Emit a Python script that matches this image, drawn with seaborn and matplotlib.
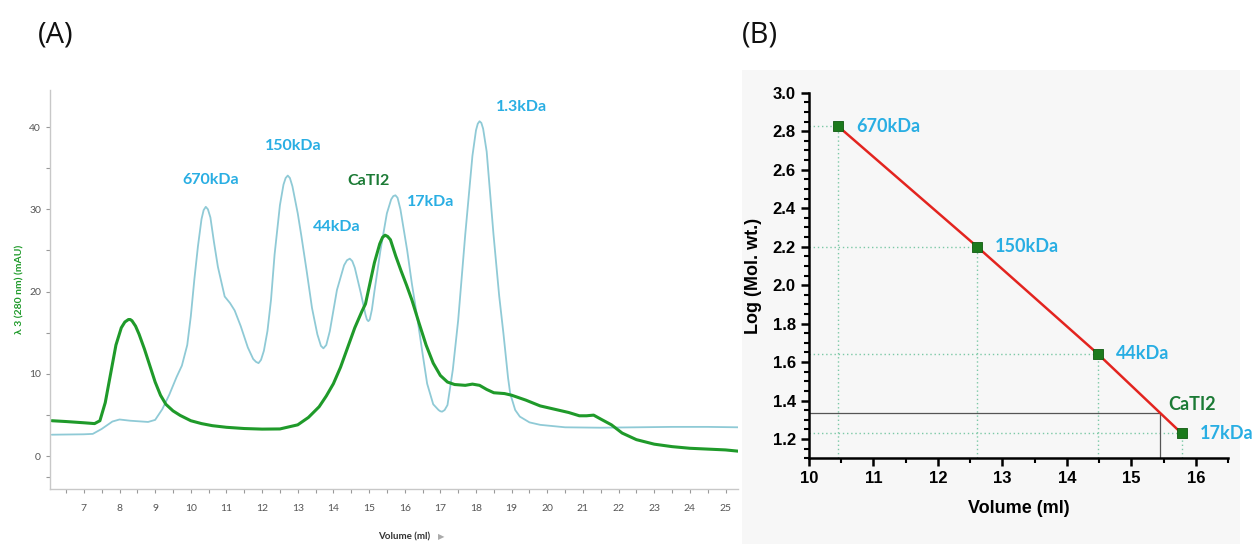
import numpy as np
import pandas as pd
import matplotlib
matplotlib.use("Agg")
import matplotlib.pyplot as plt
import seaborn as sns
from matplotlib.ticker import MultipleLocator, FixedLocator
from matplotlib.patches import Rectangle

# ---------------- data: panel A (chromatogram) ----------------
green_volume = [6.1, 6.5, 7.0, 7.3, 7.45, 7.6, 7.75, 7.9, 8.05, 8.15, 8.25, 8.3, 8.35, 8.45,
                8.55, 8.7, 8.85, 9.0, 9.15, 9.3, 9.5, 9.7, 10.0, 10.3, 10.6, 11.0, 11.5,
                12.0, 12.5, 13.0, 13.3, 13.6, 13.8, 14.0, 14.2, 14.4, 14.6, 14.8, 14.9,
                15.0, 15.15, 15.3, 15.38, 15.45, 15.52, 15.6, 15.75, 15.9, 16.05, 16.2,
                16.4, 16.6, 16.8, 17.0, 17.2, 17.4, 17.7, 17.9, 18.1, 18.3, 18.5, 18.8,
                19.0, 19.4, 19.8, 20.2, 20.6, 20.9, 21.1, 21.3, 21.5, 21.8, 22.1, 22.5,
                23.0, 23.5, 24.0, 24.5, 25.0, 25.35]
green_mau = [4.3, 4.2, 4.05, 3.95, 4.3, 6.5, 10.0, 13.5, 15.6, 16.3, 16.6, 16.6, 16.45, 15.8,
             14.8, 13.0, 11.0, 9.0, 7.4, 6.3, 5.5, 4.95, 4.3, 3.95, 3.7, 3.5, 3.35,
             3.28, 3.3, 3.8, 4.7, 6.0, 7.3, 8.8, 10.8, 13.2, 15.6, 17.6, 18.5,
             20.5, 23.5, 25.8, 26.6, 26.85, 26.7, 26.3, 24.3, 22.5, 20.8, 19.0,
             16.2, 13.5, 11.3, 9.8, 9.0, 8.7, 8.6, 8.75, 8.6, 8.1, 7.7, 7.6,
             7.4, 6.8, 6.1, 5.7, 5.3, 4.9, 4.9, 4.98, 4.5, 3.8, 2.8, 2.0,
             1.45, 1.15, 0.95, 0.85, 0.75, 0.6]

blue_volume = [6.1, 7.0, 7.25, 7.5, 7.8, 8.0, 8.3, 8.8, 9.0, 9.2, 9.4, 9.6, 9.75, 9.9,
               10.0, 10.1, 10.2, 10.3, 10.36, 10.42, 10.48, 10.55, 10.65, 10.76, 10.95,
               11.1, 11.23, 11.4, 11.6, 11.75, 11.83, 11.9, 11.97, 12.05, 12.15, 12.25,
               12.35, 12.5, 12.6, 12.66, 12.72, 12.78, 12.85, 13.0, 13.1, 13.25, 13.4,
               13.55, 13.65, 13.72, 13.8, 13.9, 14.1, 14.3, 14.38, 14.46, 14.53, 14.6,
               14.77, 14.9, 14.94, 14.98, 15.02, 15.08, 15.15, 15.32, 15.5, 15.62, 15.68,
               15.74, 15.8, 15.88, 16.07, 16.2, 16.35, 16.5, 16.63, 16.8, 16.95, 17.0,
               17.05, 17.12, 17.2, 17.35, 17.5, 17.7, 17.9, 18.0, 18.05, 18.1, 18.15,
               18.2, 18.3, 18.49, 18.65, 18.77, 18.9, 18.96, 19.1, 19.23, 19.5, 19.8,
               20.5, 21.5, 22.5, 23.5, 24.5, 25.35]
blue_mau = [2.6, 2.65, 2.7, 3.3, 4.2, 4.45, 4.3, 4.15, 4.4, 5.7, 7.5, 9.6, 11.0, 13.5,
            17.0, 21.5, 25.5, 28.8, 29.9, 30.3, 30.0, 29.0, 26.0, 23.0, 19.4,
            18.6, 17.7, 15.8, 13.2, 11.8, 11.45, 11.3, 11.7, 12.8, 15.2, 19.0,
            24.5, 30.5, 33.0, 33.8, 34.1, 33.8, 32.8, 29.5, 26.8, 22.5, 18.0,
            14.8, 13.4, 13.1, 13.5, 15.2, 20.2, 23.2, 23.8, 24.0, 23.7, 22.9,
            19.8, 17.2, 16.6, 16.4, 16.6, 17.8, 20.0, 25.0, 29.5, 31.2, 31.6,
            31.7, 31.4, 30.0, 25.0, 21.0, 16.9, 12.5, 8.8, 6.3, 5.6, 5.45,
            5.4, 5.6, 6.2, 10.5, 16.5, 27.0, 36.5, 39.6, 40.4, 40.7, 40.5,
            39.8, 37.0, 27.0, 19.5, 14.9, 9.5, 7.6, 5.6, 4.8, 4.1, 3.8,
            3.5, 3.45, 3.5, 3.55, 3.55, 3.5]

peak_labels = ["670kDa", "150kDa", "44kDa", "CaTI2", "17kDa", "1.3kDa"]
peak_label_volume = [10.55, 12.88, 14.09, 14.99, 16.72, 19.28]
peak_label_mau = [33.5, 37.7, 27.8, 33.4, 30.9, 42.4]

# ---------------- data: panel B (calibration) ----------------
std_labels = ["670kDa", "150kDa", "44kDa", "17kDa"]
std_volume = [10.45, 12.61, 14.48, 15.78]
std_logmw = [2.826, 2.199, 1.643, 1.230]
cati2_label = "CaTI2"
cati2_volume = 15.44
cati2_logmw = 1.335

# ---------------- styling ----------------
sns.set_theme(style="white")
plt.rcParams["font.family"] = ["Lato", "DejaVu Sans"]

LIGHT_BLUE_TXT = "#29aee3"
DARK_GREEN_TXT = "#1b7a35"
GREEN_LINE = "#1f9a2a"
BLUE_LINE = "#8fcad6"

fig = plt.figure(figsize=(12.52, 5.44), dpi=100)
fig.patch.set_facecolor("white")

# light background behind panel B
bg = Rectangle((742 / 1252, 0), (1240 - 742) / 1252, 1 - 70 / 544,
               transform=fig.transFigure, facecolor="#f7f7f7",
               edgecolor="none", zorder=-10)
fig.add_artist(bg)

# ================= Panel A =================
axA = fig.add_axes([50 / 1252, 1 - 489 / 544, (738 - 50) / 1252, (489 - 90) / 544])
axA.set_facecolor("white")
dfb = pd.DataFrame({"v": blue_volume, "a": blue_mau})
dfg = pd.DataFrame({"v": green_volume, "a": green_mau})
sns.lineplot(data=dfb, x="v", y="a", ax=axA, color=BLUE_LINE, linewidth=1.3, sort=False)
sns.lineplot(data=dfg, x="v", y="a", ax=axA, color=GREEN_LINE, linewidth=2.2, sort=False)
axA.set_xlim(6.05, 25.35)
axA.set_ylim(-4.0, 44.5)
axA.set_xticks(range(7, 26))
axA.xaxis.set_minor_locator(MultipleLocator(0.5))
axA.yaxis.set_major_locator(FixedLocator([0, 10, 20, 30, 40]))
axA.yaxis.set_minor_locator(FixedLocator([-2.5, 5, 15, 25, 35]))
for s in ["top", "right"]:
    axA.spines[s].set_visible(False)
for s in ["left", "bottom"]:
    axA.spines[s].set_color("#c8c8c8")
    axA.spines[s].set_linewidth(1.0)
axA.tick_params(axis="both", which="both", direction="out", color="#999999",
                length=3, width=0.8, labelsize=7.5, labelcolor="#555555",
                bottom=True, left=True)
axA.tick_params(axis="x", which="major", pad=8)
axA.set_xlabel("")
axA.set_ylabel("λ 3 (280 nm) (mAU)", color=GREEN_LINE, fontsize=7.5,
               fontweight="bold", labelpad=3)
fig.text(404 / 1252, 1 - 537 / 544, "Volume (ml)", ha="center", va="center",
         fontsize=7, fontweight="bold", color="#333333")
fig.text(441 / 1252, 1 - 537 / 544, "▶", ha="center", va="center",
         fontsize=6, color="#aaaaaa", family="DejaVu Sans")

for lab, vx, vy in zip(peak_labels, peak_label_volume, peak_label_mau):
    col = DARK_GREEN_TXT if lab == "CaTI2" else LIGHT_BLUE_TXT
    axA.text(vx, vy, lab, ha="center", va="center", fontsize=11.5,
             fontweight="bold", color=col)

# ================= Panel B =================
axB = fig.add_axes([809 / 1252, 1 - 458.3 / 544, (1228 - 809) / 1252, (458.3 - 92.7) / 544])
axB.set_facecolor("none")
axB.set_xlim(10, 16.5)
axB.set_ylim(1.1, 3.0)

# dotted guide lines from each standard to the axes
for vx, vy in zip(std_volume, std_logmw):
    axB.plot([10, vx], [vy, vy], linestyle=(0, (1, 2)), color="#7cc9a6", linewidth=1.0, zorder=1)
    axB.plot([vx, vx], [1.1, vy], linestyle=(0, (1, 2)), color="#7cc9a6", linewidth=1.0, zorder=1)

# CaTI2 solid guide lines
axB.plot([10, cati2_volume], [cati2_logmw, cati2_logmw], color="#555555", linewidth=0.9, zorder=1)
axB.plot([cati2_volume, cati2_volume], [1.1, cati2_logmw], color="#555555", linewidth=0.9, zorder=1)

dfs = pd.DataFrame({"v": std_volume, "l": std_logmw})
sns.lineplot(data=dfs, x="v", y="l", ax=axB, color="#e3241f", linewidth=1.8, zorder=2)
sns.scatterplot(data=dfs, x="v", y="l", ax=axB, marker="s", s=55, color="#1c7a1c",
                edgecolor="#0f5a0f", linewidth=0.6, zorder=3)

for lab, vx, vy in zip(std_labels, std_volume, std_logmw):
    axB.annotate(lab, (vx, vy), xytext=(13, 0), textcoords="offset points",
                 ha="left", va="center", fontsize=13, fontweight="bold",
                 color=LIGHT_BLUE_TXT, annotation_clip=False)
axB.text(15.58, 1.382, cati2_label, ha="left", va="center", fontsize=13,
         fontweight="bold", color=DARK_GREEN_TXT)

axB.set_xticks(range(10, 17))
axB.xaxis.set_minor_locator(MultipleLocator(0.5))
yt = np.round(np.arange(1.2, 3.01, 0.2), 1)
axB.set_yticks(yt)
axB.yaxis.set_minor_locator(MultipleLocator(0.05))
axB.set_xticklabels([str(v) for v in range(10, 17)], fontweight="bold",
                    family="Liberation Sans", fontsize=12)
axB.set_yticklabels([f"{v:.1f}" for v in yt], fontweight="bold",
                    family="Liberation Sans", fontsize=12)
for s in ["top", "right"]:
    axB.spines[s].set_visible(False)
for s in ["left", "bottom"]:
    axB.spines[s].set_color("black")
    axB.spines[s].set_linewidth(1.8)
axB.tick_params(axis="both", which="major", direction="out", length=6, width=1.8,
                color="black", bottom=True, left=True, labelcolor="black")
axB.tick_params(axis="both", which="minor", direction="out", length=3.5, width=1.5,
                color="black", bottom=True, left=True)
axB.set_xlabel("Volume (ml)", fontsize=13, fontweight="bold",
               family="Liberation Sans", labelpad=10, color="black")
axB.set_ylabel("Log (Mol. wt.)", fontsize=13, fontweight="bold",
               family="Liberation Sans", labelpad=8, color="black")

# panel letters
fig.text(38 / 1252, 1 - 35 / 544, "(A)", fontsize=21, ha="left", va="center",
         family=["Open Sans", "DejaVu Sans"], color="#111111")
fig.text(742 / 1252, 1 - 35 / 544, "(B)", fontsize=21, ha="left", va="center",
         family=["Open Sans", "DejaVu Sans"], color="#111111")

fig.savefig("out.png", dpi=100)
